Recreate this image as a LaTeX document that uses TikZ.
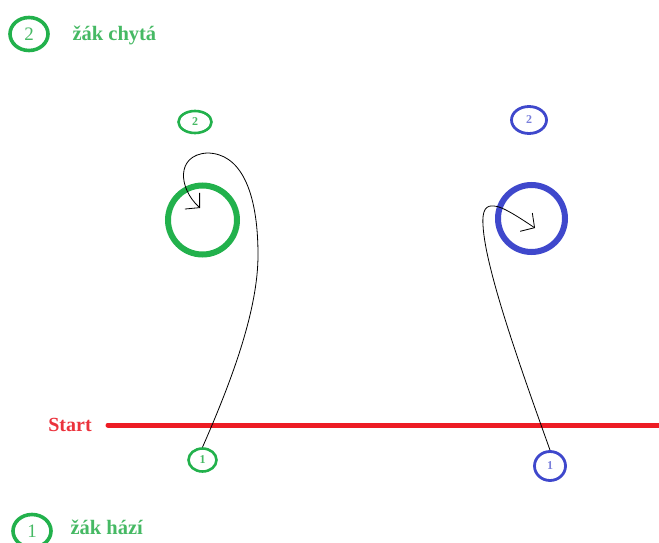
\documentclass[tikz,border=0pt]{standalone}
\usepackage{fontspec}
\setmainfont{Liberation Serif}
\usetikzlibrary{arrows.meta,shapes.geometric}
\definecolor{pgreen}{RGB}{34,177,76}
\definecolor{pblue}{RGB}{63,72,204}
\definecolor{pred}{RGB}{237,28,36}
\definecolor{tgreen}{RGB}{70,185,100}
\definecolor{tred}{RGB}{235,50,60}
\begin{document}
\begin{tikzpicture}[x=1pt,y=-1pt,
  tag/.style={ellipse,draw,inner sep=0pt,font=\bfseries\fontsize{12}{12}\selectfont},
  greentag/.style={tag,draw=pgreen,text=tgreen,line width=2.6pt},
  bluetag/.style={tag,draw=pblue,text=pblue!70,line width=2.8pt},
  legendtag/.style={tag,draw=pgreen,text=tgreen,line width=3.6pt,minimum width=38pt,minimum height=33pt,font=\fontsize{19}{19}\selectfont},
  legendtext/.style={anchor=west,text=tgreen,font=\bfseries\fontsize{20.5}{20.5}\selectfont},
  player/.style={circle,draw,line width=6pt,inner sep=0pt},
  throw/.style={draw=black,line width=0.8pt,-{Straight Barb[length=10pt,width=22pt,line width=0.8pt]}}]
\useasboundingbox (0,0) rectangle (659,543);

% legend
\node[legendtag] (lg2) at (29,34) {2};
\node[legendtext] (lt2) at (69,35) {žák chytá};
\node[legendtag] (lg1) at (32,531) {1};
\node[legendtext] (lt1) at (67,527) {žák hází};

% start line
\node[text=tred,font=\bfseries\fontsize{20}{20}\selectfont] (start) at (70,425) {Start};
\coordinate (lineA) at (108,425);
\coordinate (lineB) at (659,425);
\draw[pred,line width=5pt,line cap=round] (lineA) -- (lineB);
\draw[pred,line width=5pt] (lineB) ++(-5,0) -- (lineB);

% green pair
\node[greentag,minimum width=33pt,minimum height=22pt] (g2) at (195,122) {2};
\node[player,draw=pgreen,minimum size=69pt] (gc) at (202.5,220) {};
\node[greentag,minimum width=28pt,minimum height=23pt] (g1) at (202.5,460) {1};
\coordinate (gtip) at (200,208);

% blue pair
\node[bluetag,minimum width=35pt,minimum height=27pt] (b2) at (529,120) {2};
\node[player,draw=pblue,minimum size=67pt] (bc) at (531.5,218.5) {};
\node[bluetag,minimum width=31pt,minimum height=29pt] (b1) at (550,466) {1};
\coordinate (btip) at (535,228);

% throws
\draw[throw] (g1.north) .. controls (232,380) and (258,310) .. (258,255)
  .. controls (258,190) and (240,153) .. (207,153)
  .. controls (176,155) and (178,188) .. (gtip);
\draw[throw] (b1.north) .. controls (525,380) and (485,270) .. (483,225)
  .. controls (482,210) and (486,205) .. (494,206)
  .. controls (502,206) and (520,218) .. (btip);
\end{tikzpicture}
\end{document}
